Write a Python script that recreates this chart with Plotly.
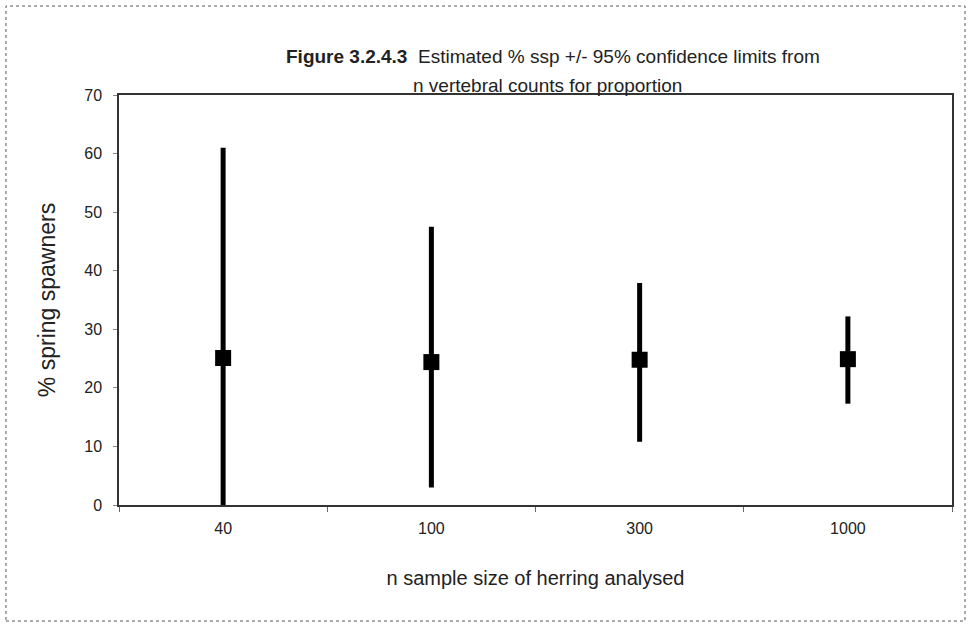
import plotly.graph_objects as go

categories = ["40", "100", "300", "1000"]
estimate = [25.1, 24.4, 24.8, 24.9]
upper = [61.0, 47.5, 37.9, 32.2]
lower = [0.0, 3.0, 10.8, 17.3]

err_plus = [u - e for u, e in zip(upper, estimate)]
err_minus = [e - l for e, l in zip(estimate, lower)]

fig = go.Figure()
fig.add_trace(go.Scatter(
    x=categories, y=estimate, mode="markers",
    marker=dict(symbol="square", size=16, color="black"),
    error_y=dict(type="data", array=err_plus, arrayminus=err_minus,
                 thickness=5, width=0, color="black"),
    showlegend=False, cliponaxis=False,
))

font = "Liberation Sans, Arial, sans-serif"
fig.update_layout(
    width=968, height=624,
    margin=dict(l=119, r=16, t=95, b=119),
    paper_bgcolor="white", plot_bgcolor="white",
    font=dict(family=font, color="#222", size=16),
    xaxis=dict(
        type="category", range=[-0.5, len(categories) - 0.5],
        showgrid=False, showline=True, linecolor="#333", linewidth=1.5,
        mirror=True, ticks="outside", tickson="boundaries", ticklen=5, tickcolor="#666",
        ticklabelstandoff=8,
        title=dict(text="n sample size of herring analysed", font=dict(size=20), standoff=35),
        tickfont=dict(size=16),
    ),
    yaxis=dict(
        range=[0, 70], dtick=10, showgrid=False, showline=True, linecolor="#333", linewidth=1.5,
        mirror=True, ticks="outside", ticklen=4, tickcolor="#888", zeroline=False,
        ticklabelstandoff=8,
        title=dict(text="% spring spawners", font=dict(size=23), standoff=22),
        tickfont=dict(size=16),
    ),
    annotations=[
        dict(text="<b>Figure 3.2.4.3</b>  Estimated % ssp +/- 95% confidence limits from",
             xref="paper", yref="paper", x=0.521, y=1.0927, xanchor="center", yanchor="middle",
             showarrow=False, font=dict(size=19)),
        dict(text="n vertebral counts for proportion",
             xref="paper", yref="paper", x=0.515, y=1.022, xanchor="center", yanchor="middle",
             showarrow=False, font=dict(size=19)),
    ],
    shapes=[dict(type="rect", xref="paper", yref="paper",
                 x0=-0.1357, x1=1.0156, y0=-0.283, y1=1.217,
                 line=dict(color="#555", width=1, dash="dot"))],
)

fig.write_html("out.html", config={"displayModeBar": False},
               post_script="document.body.style.margin='0';")
